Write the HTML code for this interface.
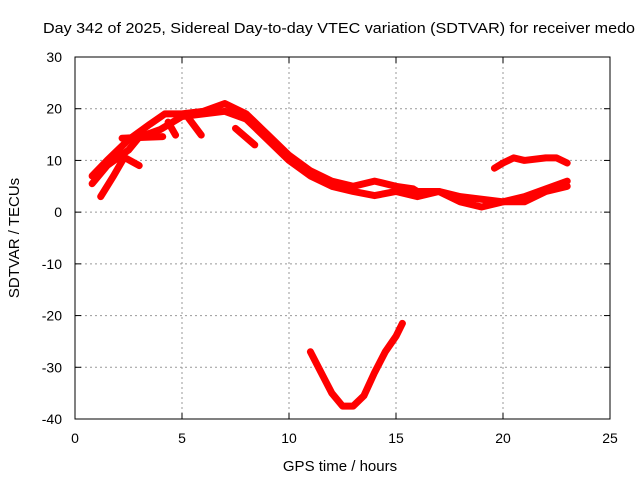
<!DOCTYPE html>
<html><head><meta charset="utf-8"><style>
body{margin:0;background:#fff}
svg{display:block;font-family:"Liberation Sans",sans-serif}
</style></head><body>
<svg id="c" width="640" height="480">
<text x="339" y="33" font-size="15" text-anchor="middle" textLength="592" lengthAdjust="spacingAndGlyphs" fill="#000">Day 342 of 2025, Sidereal Day-to-day VTEC variation (SDTVAR) for receiver medo</text>
<text x="340" y="471" font-size="15" text-anchor="middle">GPS time / hours</text>
<text transform="translate(19,238) rotate(-90)" font-size="15" text-anchor="middle">SDTVAR / TECUs</text>
<g id="grid"></g><g id="series"></g>
<rect x="75" y="57" width="535" height="362" fill="none" stroke="#000"/>
</svg>
<script>
const xTicks=[0,5,10,15,20,25];
const yTicks=[30,20,10,0,-10,-20,-30,-40];
const trackA=[[0.8,7],[1.5,10],[2.5,14],[3.5,17],[4.2,19],[5,19],[6,19.5],[7,21],[8,19],[9,15],[10,11],[11,8],[12,6],[13,5],[14,6],[15,5],[15.8,4.5],[16,4],[17,4],[18,3],[19,2.5],[20,2],[21,3],[22,4.5],[23,6]];
const trackB=[[0.8,5.5],[1.5,9],[2.5,12],[3,14.5],[4,16],[5,18.5],[6,19],[7,19.5],[8,18],[9,14],[10,10],[11,7],[12,5],[13,4],[14,3.2],[15,4],[16,3],[17,4],[18,2],[19,1],[20,2],[21,2],[22,4],[23,5]];
const branch1=[[1.2,3],[1.8,7],[2.3,10.6],[3,9]];
const branch2=[[2.2,14.3],[4.1,14.6]];
const branch3=[[4.35,17.4],[4.7,14.9]];
const branch4=[[5.3,18.2],[5.9,14.9]];
const branch5=[[7.5,16.2],[8.4,13]];
const trackC=[[19.6,8.5],[20,9.5],[20.5,10.5],[21,10],[22,10.5],[22.5,10.5],[23,9.5]];
const trackD=[[11,-27],[11.5,-31],[12,-35],[12.5,-37.5],[13,-37.5],[13.5,-35.5],[14,-31],[14.5,-27],[15,-24],[15.3,-21.5]];
const X=v=>75+v*535/25, Y=v=>57+(30-v)*362/70;
const NS="http://www.w3.org/2000/svg";
const g=document.getElementById('grid'), s=document.getElementById('series');
function mk(t,a,p){const e=document.createElementNS(NS,t);for(const k in a)e.setAttribute(k,a[k]);p.appendChild(e);return e;}
xTicks.forEach(v=>{
 if(v>0&&v<25){const l=mk('line',{x1:X(v),x2:X(v),y1:57,y2:419,stroke:'#999','stroke-dasharray':'2,3'},g);
 
 }
 mk('line',{x1:X(v),x2:X(v),y1:419,y2:413,stroke:'#000'},g);
 mk('line',{x1:X(v),x2:X(v),y1:57,y2:63,stroke:'#000'},g);
 const t=mk('text',{x:X(v),y:443,'font-size':14,'text-anchor':'middle'},g);t.textContent=v;
 
 
});
yTicks.forEach(v=>{
 if(v<30&&v>-40){const l=mk('line',{x1:75,x2:610,y1:Y(v),y2:Y(v),stroke:'#999','stroke-dasharray':'2,3'},g);
 
 }
 mk('line',{x1:75,x2:81,y1:Y(v),y2:Y(v),stroke:'#000'},g);
 mk('line',{x1:610,x2:604,y1:Y(v),y2:Y(v),stroke:'#000'},g);
 const t=mk('text',{x:62,y:Y(v)+5,'font-size':14,'text-anchor':'end'},g);t.textContent=v;
 
 
});
[trackA,trackB,branch1,branch2,branch3,branch4,branch5,trackC,trackD].forEach(tr=>{
 const p=mk('polyline',{points:tr.map(d=>X(d[0])+','+Y(d[1])).join(' '),fill:'none',stroke:'#f00','stroke-width':7,'stroke-linejoin':'round','stroke-linecap':'round'},s);
 
 
});
</script>
</body></html>
